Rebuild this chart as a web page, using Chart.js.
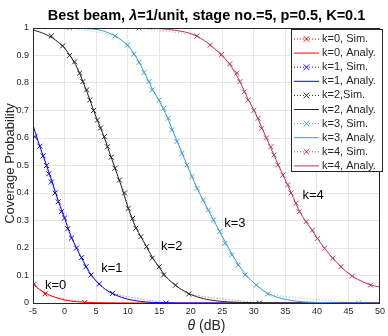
<!DOCTYPE html>
<html>
<head>
<meta charset="utf-8">
<script src="https://cdn.jsdelivr.net/npm/chart.js@4.4.0/dist/chart.umd.min.js"></script>
<style>
  html, body { margin: 0; padding: 0; background: #fff; }
  #wrap { width: 388px; height: 336px; }
</style>
</head>
<body>
<div id="wrap"><canvas id="coverageChart" width="388" height="336"></canvas></div>
<script>
// values
const xTicks = [-5, 0, 5, 10, 15, 20, 25, 30, 35, 40, 45, 50];
const yTicks = [0, 0.1, 0.2, 0.3, 0.4, 0.5, 0.6, 0.7, 0.8, 0.9, 1];

const seriesLabels = ['k=0', 'k=1', 'k=2', 'k=3', 'k=4'];
const simLabels = ['k=0, Sim.', 'k=1, Sim.', 'k=2,Sim.', 'k=3, Sim.', 'k=4, Sim.'];
const analyLabels = ['k=0, Analy.', 'k=1, Analy.', 'k=2, Analy.', 'k=3, Analy.', 'k=4, Analy.'];
const colors = ['#ff0000', '#0000ff', '#262626', '#3e9bd6', '#bd3a56'];

// analytical curves
const k0AnalyTheta = [-5, -4, -3, -2, -1, 0, 1, 2, 3, 4, 5, 7, 10, 15, 20, 30, 50];
const k0Analy = [0.068, 0.05, 0.036, 0.025, 0.017, 0.011, 0.007, 0.0045, 0.003, 0.002, 0.0012, 0.0005, 0.0001, 0, 0, 0, 0];

const k1AnalyTheta = [-5, -4, -3, -2, -1, 0, 1, 2, 3, 4, 5, 6, 7, 8, 10, 12, 14, 16, 18, 20, 30, 50];
const k1Analy = [0.647, 0.575, 0.51, 0.443, 0.372, 0.31, 0.245, 0.195, 0.15, 0.11, 0.08, 0.058, 0.042, 0.03, 0.014, 0.006, 0.002, 0.001, 0, 0, 0, 0];

const k2AnalyTheta = [-5, -4, -3, -2, -1, 0, 1, 2, 3, 4, 5, 6, 7, 8, 9, 10, 11, 12, 13, 14, 15, 16, 17, 18, 19, 20, 22, 24, 26, 28, 30, 35, 50];
const k2Analy = [0.993, 0.986, 0.977, 0.965, 0.948, 0.927, 0.895, 0.855, 0.80, 0.74, 0.676, 0.62, 0.556, 0.49, 0.425, 0.352, 0.29, 0.245, 0.205, 0.163, 0.13, 0.098, 0.075, 0.057, 0.043, 0.031, 0.016, 0.008, 0.004, 0.002, 0.001, 0, 0];

const k3AnalyTheta = [-5, 0, 2, 4, 5, 6, 7, 8, 9, 10, 11, 12, 13, 14, 15, 16, 17, 18, 19, 20, 21, 22, 23, 24, 25, 26, 27, 28, 29, 30, 31, 32, 33, 34, 36, 38, 40, 42, 44, 50];
const k3Analy = [1, 1, 0.999, 0.997, 0.995, 0.99, 0.982, 0.972, 0.956, 0.936, 0.907, 0.868, 0.822, 0.775, 0.735, 0.69, 0.635, 0.58, 0.525, 0.47, 0.418, 0.372, 0.328, 0.285, 0.242, 0.2, 0.16, 0.125, 0.097, 0.073, 0.054, 0.038, 0.027, 0.019, 0.009, 0.004, 0.002, 0.001, 0, 0];

const k4AnalyTheta = [-5, 10, 15, 18, 20, 21, 22, 23, 24, 25, 26, 27, 28, 29, 30, 31, 32, 33, 34, 35, 36, 37, 38, 39, 40, 41, 42, 43, 44, 45, 46, 47, 48, 49, 50];
const k4Analy = [1, 1, 0.998, 0.99, 0.98, 0.97, 0.956, 0.94, 0.92, 0.898, 0.873, 0.838, 0.796, 0.745, 0.703, 0.652, 0.6, 0.548, 0.496, 0.447, 0.397, 0.345, 0.305, 0.272, 0.238, 0.205, 0.177, 0.151, 0.128, 0.108, 0.092, 0.08, 0.07, 0.063, 0.058];

// simulation points
const k0SimTheta = [-4.8, -3.1, 3.2];
const k0Sim = [0.069, 0.033, 0.002];

const k1SimTheta = [-4.7, -3.9, -3.4, -2.85, -2.5, -2.1, -1.5, -1.0, -0.5, 0, 0.5, 1.1, 1.9, 2.7, 3.4, 4.2, 5.5, 7.6, 16.1];
const k1Sim = [0.605, 0.57, 0.535, 0.5, 0.47, 0.44, 0.40, 0.368, 0.332, 0.309, 0.27, 0.236, 0.2, 0.165, 0.132, 0.102, 0.069, 0.035, 0];

const k2SimTheta = [-2.1, -0.3, 0.8, 1.6, 2.4, 2.9, 3.5, 4.0, 4.6, 5.2, 5.7, 6.3, 6.8, 7.4, 8.0, 8.7, 9.5, 10.1, 10.8, 11.3, 12.1, 13.0, 13.9, 15.0, 15.7, 17.6, 19.7, 30.9];
const k2Sim = [0.971, 0.935, 0.90, 0.877, 0.836, 0.805, 0.775, 0.738, 0.70, 0.665, 0.636, 0.605, 0.568, 0.53, 0.49, 0.447, 0.40, 0.344, 0.308, 0.272, 0.241, 0.205, 0.163, 0.132, 0.102, 0.065, 0.033, 0];

const k3SimTheta = [0.8, 8.0, 10.0, 11.0, 11.8, 12.6, 13.4, 13.9, 15.0, 15.7, 16.45, 17.0, 17.8, 18.6, 19.4, 20.2, 21.0, 22.0, 22.8, 23.6, 24.6, 25.4, 26.5, 27.5, 28.6, 30.4, 32.2, 46.6];
const k3Sim = [1.0, 0.971, 0.938, 0.905, 0.875, 0.838, 0.805, 0.775, 0.738, 0.708, 0.672, 0.63, 0.587, 0.544, 0.502, 0.46, 0.417, 0.375, 0.338, 0.302, 0.26, 0.217, 0.175, 0.138, 0.102, 0.065, 0.033, 0];

const k4SimTheta = [11.8, 21.0, 23.1, 24.9, 26.2, 27.3, 27.8, 28.5, 29.1, 30.0, 30.7, 31.2, 32.0, 32.7, 33.2, 33.8, 34.6, 35.4, 35.9, 36.7, 37.2, 38.3, 39.3, 40.1, 41.2, 42.5, 43.8, 45.6, 48.5];
const k4Sim = [1.0, 0.971, 0.938, 0.904, 0.87, 0.836, 0.805, 0.768, 0.738, 0.70, 0.672, 0.635, 0.60, 0.568, 0.538, 0.502, 0.465, 0.43, 0.40, 0.363, 0.332, 0.296, 0.265, 0.235, 0.199, 0.163, 0.132, 0.098, 0.065];

// curve labels placed inside the plot (theta, probability)
const noteTheta = [-3.1, 5.8, 15.3, 25.3, 37.7];
const noteProb = [0.065, 0.127, 0.207, 0.29, 0.393];

const analyTheta = [k0AnalyTheta, k1AnalyTheta, k2AnalyTheta, k3AnalyTheta, k4AnalyTheta];
const analyValues = [k0Analy, k1Analy, k2Analy, k3Analy, k4Analy];
const simTheta = [k0SimTheta, k1SimTheta, k2SimTheta, k3SimTheta, k4SimTheta];
const simValues = [k0Sim, k1Sim, k2Sim, k3Sim, k4Sim];

const FONT = '"Liberation Sans", Arial, Helvetica, sans-serif';

function toPoints(xs, ys) {
  return xs.map((x, i) => ({ x: x, y: ys[i] }));
}

const datasets = [];
seriesLabels.forEach((name, i) => {
  datasets.push({
    label: simLabels[i],
    data: toPoints(simTheta[i], simValues[i]),
    borderColor: colors[i],
    backgroundColor: colors[i],
    borderWidth: 0.6,
    borderDash: [1, 2],
    pointStyle: 'crossRot',
    pointRadius: 3.5,
    pointBorderWidth: 1,
    pointBorderColor: colors[i],
    tension: 0.3,
    order: 20 - 2 * i
  });
  datasets.push({
    label: analyLabels[i],
    data: toPoints(analyTheta[i], analyValues[i]),
    borderColor: colors[i],
    borderWidth: 1,
    pointRadius: 0,
    cubicInterpolationMode: 'monotone',
    order: 19 - 2 * i
  });
});

// titles, curve notes, box and legend drawn on the canvas
const decorations = {
  id: 'decorations',
  afterDraw(chart) {
    const ctx = chart.ctx;
    const area = chart.chartArea;
    const xs = chart.scales.x;
    const ys = chart.scales.y;
    const cx = (area.left + area.right) / 2;
    ctx.save();

    // box around the plot
    ctx.strokeStyle = '#262626';
    ctx.lineWidth = 1;
    ctx.strokeRect(Math.round(area.left) + 0.5, Math.round(area.top) + 0.5,
      Math.round(area.right - area.left) - 1, Math.round(area.bottom - area.top));

    // title with italic lambda
    ctx.fillStyle = '#000';
    ctx.textBaseline = 'alphabetic';
    const parts = [
      ['bold 14.5px ' + FONT, 'Best beam, '],
      ['italic bold 14.5px ' + FONT, 'λ'],
      ['bold 14.5px ' + FONT, '=1/unit, stage no.=5, p=0.5, K=0.1']
    ];
    let total = 0;
    parts.forEach(p => { ctx.font = p[0]; total += ctx.measureText(p[1]).width; });
    let tx = cx - total / 2;
    ctx.textAlign = 'left';
    parts.forEach(p => { ctx.font = p[0]; ctx.fillText(p[1], tx, 20); tx += ctx.measureText(p[1]).width; });

    // x axis title
    ctx.fillStyle = '#262626';
    const xparts = [['italic 14px ' + FONT, 'θ'], ['14px ' + FONT, ' (dB)']];
    total = 0;
    xparts.forEach(p => { ctx.font = p[0]; total += ctx.measureText(p[1]).width; });
    tx = cx - total / 2;
    xparts.forEach(p => { ctx.font = p[0]; ctx.fillText(p[1], tx, 330); tx += ctx.measureText(p[1]).width; });

    // y axis title
    ctx.save();
    ctx.translate(14, (area.top + area.bottom) / 2 - 2);
    ctx.rotate(-Math.PI / 2);
    ctx.textAlign = 'center';
    ctx.font = '13px ' + FONT;
    ctx.fillText('Coverage Probability', 0, 0);
    ctx.restore();

    // curve notes
    ctx.fillStyle = '#000';
    ctx.font = '13px ' + FONT;
    ctx.textAlign = 'left';
    ctx.textBaseline = 'middle';
    seriesLabels.forEach((name, i) => {
      ctx.fillText(name, xs.getPixelForValue(noteTheta[i]), ys.getPixelForValue(noteProb[i]));
    });

    // legend
    const lx = 291, ly = 29, lw = 91, rowH = 14.1;
    const lh = rowH * 10 + 1;
    ctx.fillStyle = '#fff';
    ctx.fillRect(lx, ly, lw, lh);
    ctx.strokeStyle = '#262626';
    ctx.lineWidth = 1;
    ctx.strokeRect(lx + 0.5, ly + 0.5, lw, lh);
    ctx.font = '11px ' + FONT;
    ctx.textBaseline = 'middle';
    chart.data.datasets.forEach((ds, j) => {
      const yy = ly + 10 + j * rowH;
      ctx.strokeStyle = ds.borderColor;
      ctx.lineWidth = 1;
      ctx.setLineDash(ds.borderDash || []);
      ctx.beginPath();
      ctx.moveTo(lx + 3, yy);
      ctx.lineTo(lx + 28, yy);
      ctx.stroke();
      ctx.setLineDash([]);
      if (ds.pointStyle === 'crossRot') {
        const m = 2.8, mx = lx + 15.5;
        ctx.beginPath();
        ctx.moveTo(mx - m, yy - m); ctx.lineTo(mx + m, yy + m);
        ctx.moveTo(mx - m, yy + m); ctx.lineTo(mx + m, yy - m);
        ctx.stroke();
      }
      ctx.fillStyle = '#262626';
      ctx.fillText(ds.label, lx + 31, yy);
    });
    ctx.restore();
  }
};

const ctx = document.getElementById('coverageChart').getContext('2d');
new Chart(ctx, {
  type: 'line',
  data: { datasets: datasets },
  options: {
    responsive: false,
    animation: false,
    layout: { padding: { top: 28, right: 5, left: 0, bottom: 0 } },
    plugins: {
      legend: { display: false },
      title: { display: false },
      tooltip: { enabled: false }
    },
    scales: {
      x: {
        type: 'linear',
        min: -5,
        max: 50,
        afterBuildTicks: scale => { scale.ticks = xTicks.map(v => ({ value: v })); },
        afterFit: scale => { scale.height = 33; },
        grid: { color: '#e6e6e6', drawTicks: false },
        border: { display: true, color: '#262626' },
        ticks: { padding: 3, color: '#262626', font: { family: FONT, size: 9 } }
      },
      y: {
        type: 'linear',
        min: 0,
        max: 1,
        afterBuildTicks: scale => { scale.ticks = yTicks.map(v => ({ value: v })); },
        afterFit: scale => { scale.width = 33; },
        grid: { color: '#e6e6e6', drawTicks: false },
        border: { display: true, color: '#262626' },
        ticks: {
          padding: 4,
          color: '#262626',
          font: { family: FONT, size: 9 },
          callback: v => String(+v.toFixed(1))
        }
      }
    }
  },
  plugins: [decorations]
});
</script>
</body>
</html>
